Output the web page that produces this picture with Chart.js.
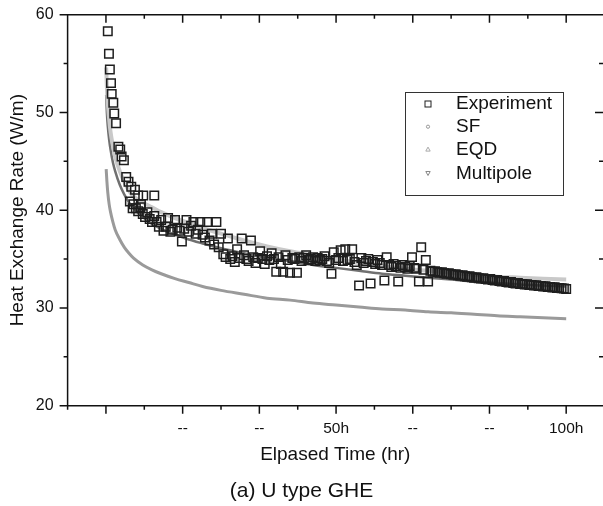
<!DOCTYPE html>
<html>
<head>
<meta charset="utf-8">
<script src="https://cdn.jsdelivr.net/npm/chart.js@4.4.1/dist/chart.umd.min.js"></script>
<style>
  html, body { margin: 0; padding: 0; background: #fff; }
  #wrap { width: 603px; height: 506px; }
</style>
</head>
<body>
<div id="wrap"><canvas id="chart" width="603" height="506"></canvas></div>
<script>
// measured points, [hour, W/m]
const expEarly = [
  [0.4, 58.3], [0.65, 56.0], [0.85, 54.4], [1.1, 53.0], [1.25, 51.9], [1.6, 51.0], [1.8, 49.9], [2.2, 48.9],
  [2.7, 46.5], [3.1, 46.2], [3.4, 45.5], [3.9, 45.1], [4.4, 43.4], [4.9, 42.9], [5.5, 42.4], [6.3, 42.1],
  [7.0, 41.5], [5.2, 40.9], [8.1, 41.5], [10.5, 41.5], [5.8, 40.2], [7.6, 40.6]
];
const expMid = [
  [6.0, 40.6], [6.5, 40.2], [7.0, 39.9], [7.5, 40.3], [8.0, 39.6], [8.5, 39.3], [9.0, 39.8], [9.5, 39.1],
  [10.0, 38.8], [10.5, 39.4], [11.0, 38.8], [11.5, 38.3], [12.0, 39.0],
  [12.5, 37.9], [13.0, 38.3], [13.5, 39.2], [14.0, 37.8], [14.5, 38.0], [15.0, 39.0], [15.5, 38.2], [16.0, 37.9],
  [16.5, 36.8], [17.0, 38.1], [17.5, 39.0], [18.0, 37.8], [18.5, 38.4], [19.0, 38.8], [19.5, 37.6], [20.0, 38.0],
  [20.5, 38.8], [21.0, 37.5], [21.5, 37.2], [22.0, 38.8], [22.5, 36.9], [23.0, 37.6], [23.5, 36.5], [24.0, 38.8],
  [24.5, 36.2], [25.0, 37.6], [25.5, 35.5], [26.0, 35.2], [26.5, 37.1], [27.0, 35.0], [27.5, 35.3], [28.0, 34.7],
  [28.5, 36.0], [29.0, 35.1], [29.5, 37.1], [30.0, 35.4],
  [30.5, 35.0], [31.0, 34.8], [31.5, 36.9], [32.0, 35.2], [32.5, 34.6], [33.0, 35.1], [33.5, 35.8], [34.0, 35.0],
  [34.5, 34.5], [35.0, 35.3], [35.5, 34.9], [36.0, 35.6], [36.5, 35.0], [37.0, 33.7], [37.5, 35.2], [38.0, 34.5],
  [38.5, 33.7], [39.0, 35.4], [39.5, 34.9], [40.0, 33.6],
  [40.5, 35.1], [41.0, 35.0], [41.5, 33.6], [42.0, 35.2], [42.5, 34.8], [43.0, 35.1], [43.5, 35.4], [44.0, 34.9],
  [44.5, 35.0], [45.0, 35.2], [45.5, 34.8], [46.0, 35.1], [46.5, 34.9], [47.0, 35.0], [47.5, 35.3], [48.0, 34.8],
  [48.5, 34.6], [49.0, 33.5], [49.5, 35.7], [50.0, 34.9],
  [50.5, 35.1], [51.0, 35.9], [51.5, 34.8], [52.0, 36.0], [52.5, 34.9], [53.0, 35.0], [53.5, 36.0], [54.0, 34.7],
  [54.5, 34.4], [55.0, 32.3], [55.5, 35.1], [56.0, 34.6], [56.5, 34.8], [57.0, 35.0], [57.5, 32.5], [58.0, 34.7],
  [58.5, 34.5], [59.0, 34.9], [59.5, 34.6], [60.0, 34.4],
  [60.5, 32.8], [61.0, 35.2], [61.5, 34.4], [62.0, 34.2], [62.5, 34.5], [63.0, 34.3], [63.5, 32.7], [64.0, 34.1],
  [64.5, 34.4], [65.0, 34.2], [65.5, 34.0], [66.0, 34.3], [66.5, 35.2], [67.0, 34.1], [67.5, 34.0], [68.0, 32.7],
  [68.5, 36.2], [69.0, 33.9], [69.5, 34.9], [70.0, 32.7]
];
const expLate = [
  [70.5, 33.8], [71.0, 33.7], [71.5, 33.75], [72.0, 33.65], [72.5, 33.6], [73.0, 33.65], [73.5, 33.55], [74.0, 33.5],
  [74.5, 33.55], [75.0, 33.45], [75.5, 33.4], [76.0, 33.45], [76.5, 33.35], [77.0, 33.3], [77.5, 33.35], [78.0, 33.25],
  [78.5, 33.2], [79.0, 33.25], [79.5, 33.15], [80.0, 33.1], [80.5, 33.15], [81.0, 33.05], [81.5, 33.0], [82.0, 33.05],
  [82.5, 32.95], [83.0, 32.9], [83.5, 32.95], [84.0, 32.85], [84.5, 32.8], [85.0, 32.85], [85.5, 32.75], [86.0, 32.7],
  [86.5, 32.75], [87.0, 32.65], [87.5, 32.6], [88.0, 32.65], [88.5, 32.55], [89.0, 32.5], [89.5, 32.55], [90.0, 32.45],
  [90.5, 32.45], [91.0, 32.4], [91.5, 32.42], [92.0, 32.35], [92.5, 32.35], [93.0, 32.3], [93.5, 32.32], [94.0, 32.25],
  [94.5, 32.25], [95.0, 32.2], [95.5, 32.22], [96.0, 32.15], [96.5, 32.15], [97.0, 32.1], [97.5, 32.12], [98.0, 32.05],
  [98.5, 32.05], [99.0, 32.02], [99.5, 32.0], [100.0, 31.95]
];

// model curves
const modelHours    = [0.05, 0.2, 0.4, 0.7, 1, 1.5, 2, 3, 4, 5, 6, 8, 10, 12, 15, 18, 21, 25, 30, 35, 40, 45, 50, 55, 60, 65, 70, 75, 80, 85, 90, 95, 100];
const sfRate        = [44.2, 43.0, 41.8, 40.6, 39.8, 38.8, 38.0, 37.0, 36.2, 35.6, 35.1, 34.4, 33.9, 33.5, 33.0, 32.6, 32.2, 31.8, 31.4, 31.0, 30.8, 30.5, 30.3, 30.1, 29.9, 29.8, 29.6, 29.5, 29.35, 29.2, 29.1, 29.0, 28.9];
const eqdRate       = [54.6, 52.6, 51.0, 49.3, 48.0, 46.6, 45.5, 44.0, 42.9, 42.0, 41.4, 40.8, 40.3, 39.8, 39.2, 38.7, 38.2, 37.6, 36.9, 36.3, 35.8, 35.4, 35.0, 34.6, 34.3, 34.0, 33.8, 33.6, 33.4, 33.2, 33.1, 33.0, 32.9];
const multipoleRate = [51.8, 50.0, 48.6, 47.2, 46.2, 44.9, 44.0, 42.6, 41.6, 40.8, 40.2, 39.3, 38.6, 38.1, 37.5, 37.0, 36.6, 36.1, 35.6, 35.1, 34.8, 34.4, 34.1, 33.8, 33.5, 33.3, 33.1, 32.9, 32.7, 32.55, 32.4, 32.3, 32.2];

// axes
const xMajorHours  = [0, 16.667, 33.333, 50, 66.667, 83.333, 100];
const xMajorLabels = ['', '--', '--', '50h', '--', '--', '100h'];
const xMinorHours  = [-8.333, 8.333, 25, 41.667, 58.333, 75, 91.667];
const yMajorRates  = [20, 30, 40, 50, 60];
const yMinorRates  = [25, 35, 45, 55];

const FONT = "Arial, 'Liberation Sans', sans-serif";
const INK = '#111';
const EXP_COLOR = '#1e1e1e';
const SF_COLOR = '#9a9a9a';
const EQD_COLOR = '#c9c9c9';
const MP_COLOR = '#707070';

const pairs = (list) => list.map((p) => ({x: p[0], y: p[1]}));
const curve = (ys) => modelHours.map((h, i) => ({x: h, y: ys[i]}));

// {{{ frame + ticks on all four sides
const framePlugin = {
  id: 'frame',
  afterDatasetsDraw(chart)
  {
    const {ctx, chartArea: a, scales: {x, y}} = chart;
    ctx.save();
    ctx.strokeStyle = INK;
    ctx.lineWidth = 1.5;
    ctx.beginPath();
    ctx.moveTo(a.left, a.top); ctx.lineTo(a.right, a.top);
    ctx.moveTo(a.left, a.top); ctx.lineTo(a.left, a.bottom + 1);
    ctx.moveTo(a.left, a.bottom); ctx.lineTo(a.right, a.bottom);
    const xt = (v, len) =>
    {
      const px = x.getPixelForValue(v);
      ctx.moveTo(px, a.bottom); ctx.lineTo(px, a.bottom + len);
      ctx.moveTo(px, a.top); ctx.lineTo(px, a.top + len);
    };
    const yt = (v, len) =>
    {
      const py = y.getPixelForValue(v);
      ctx.moveTo(a.left, py); ctx.lineTo(a.left - len, py);
      ctx.moveTo(a.right, py); ctx.lineTo(a.right - len, py);
    };
    xMajorHours.forEach((v) => xt(v, 8));
    xMinorHours.forEach((v) => xt(v, 4));
    yMajorRates.forEach((v) => yt(v, 8));
    yMinorRates.forEach((v) => yt(v, 4));
    ctx.stroke();
    ctx.restore();
  }
};
// }}}

// {{{ boxed legend inside the plot
const legendPlugin = {
  id: 'boxLegend',
  afterDraw(chart)
  {
    const ctx = chart.ctx;
    const box = {left: 405, top: 92, width: 158, height: 103};
    ctx.save();
    ctx.fillStyle = '#fff';
    ctx.fillRect(box.left, box.top, box.width, box.height);
    ctx.strokeStyle = '#333';
    ctx.lineWidth = 1;
    ctx.strokeRect(box.left + 0.5, box.top + 0.5, box.width, box.height);
    ctx.font = '19px ' + FONT;
    ctx.textBaseline = 'middle';
    ctx.fillStyle = INK;
    const rows = [104, 126.7, 149.3, 173.3];
    const mx = 428;
    chart.data.datasets.forEach((ds, i) =>
    {
      const cy = rows[i];
      ctx.fillText(ds.label, 456, cy);
      ctx.beginPath();
      ctx.lineWidth = 1;
      if (i == 0)
      {
        ctx.strokeStyle = EXP_COLOR;
        ctx.strokeRect(mx - 3, cy - 3, 6, 6);
      }
      else if (i == 1)
      {
        ctx.strokeStyle = '#999';
        ctx.arc(mx, cy, 1.6, 0, Math.PI * 2);
        ctx.stroke();
      }
      else if (i == 2)
      {
        ctx.strokeStyle = '#aaa';
        ctx.moveTo(mx, cy - 2.2); ctx.lineTo(mx + 2.2, cy + 1.8); ctx.lineTo(mx - 2.2, cy + 1.8); ctx.closePath();
        ctx.stroke();
      }
      else
      {
        ctx.strokeStyle = '#888';
        ctx.moveTo(mx, cy + 2.2); ctx.lineTo(mx + 2.2, cy - 1.8); ctx.lineTo(mx - 2.2, cy - 1.8); ctx.closePath();
        ctx.stroke();
      }
    });
    ctx.restore();
  }
};
// }}}

new Chart(document.getElementById('chart'),
{
  type: 'scatter',
  data:
  {
    datasets:
    [
      {label: 'Experiment', data: pairs(expEarly.concat(expMid, expLate)), pointStyle: 'rect', pointRadius: 6, borderColor: EXP_COLOR, backgroundColor: 'rgba(0,0,0,0)', borderWidth: 1.5},
      {label: 'SF', data: curve(sfRate), showLine: true, pointRadius: 0, borderColor: SF_COLOR, borderWidth: 3, cubicInterpolationMode: 'monotone'},
      {label: 'EQD', data: curve(eqdRate), showLine: true, pointRadius: 0, borderColor: EQD_COLOR, borderWidth: 4, cubicInterpolationMode: 'monotone'},
      {label: 'Multipole', data: curve(multipoleRate), showLine: true, pointRadius: 0, borderColor: MP_COLOR, borderWidth: 2.5, cubicInterpolationMode: 'monotone'}
    ]
  },
  options:
  {
    responsive: false,
    animation: false,
    devicePixelRatio: 1,
    layout: {autoPadding: false, padding: {top: 14.7, left: 0, right: 0, bottom: 0}},
    plugins:
    {
      legend: {display: false},
      tooltip: {enabled: false},
      title: {display: true, position: 'bottom', text: '(a) U type GHE', color: INK, font: {family: FONT, size: 21, weight: 'normal'}, padding: {top: 4, bottom: 2}}
    },
    scales:
    {
      x:
      {
        type: 'linear', min: -8.333, max: 108,
        afterBuildTicks: (s) => { s.ticks = xMajorHours.map((v) => ({value: v})); },
        afterFit: (s) => { s.height = 69.1; s.paddingLeft = 0; s.paddingRight = 0; },
        grid: {drawOnChartArea: false, drawTicks: true, tickLength: 8, color: 'rgba(0,0,0,0)'},
        border: {display: false},
        ticks: {color: INK, font: {family: FONT, size: 15.5}, padding: 6, maxRotation: 0, autoSkip: false, callback: (v, i) => xMajorLabels[i]},
        title: {display: true, text: 'Elpased Time (hr)', color: INK, font: {family: FONT, size: 19}, padding: {top: 0, bottom: 8.4}}
      },
      y:
      {
        type: 'linear', min: 20, max: 60,
        afterBuildTicks: (s) => { s.ticks = yMajorRates.map((v) => ({value: v})); },
        afterFit: (s) => { s.width = 67.6; s.paddingTop = 0; s.paddingBottom = 0; },
        grid: {drawOnChartArea: false, drawTicks: true, tickLength: 8, color: 'rgba(0,0,0,0)'},
        border: {display: false},
        ticks: {color: INK, font: {family: FONT, size: 16}, padding: 6, callback: (v) => String(v)},
        title: {display: true, text: 'Heat Exchange Rate (W/m)', color: INK, font: {family: FONT, size: 19}, padding: {top: 6, bottom: 0}}
      }
    }
  },
  plugins: [framePlugin, legendPlugin]
});
</script>
</body>
</html>
